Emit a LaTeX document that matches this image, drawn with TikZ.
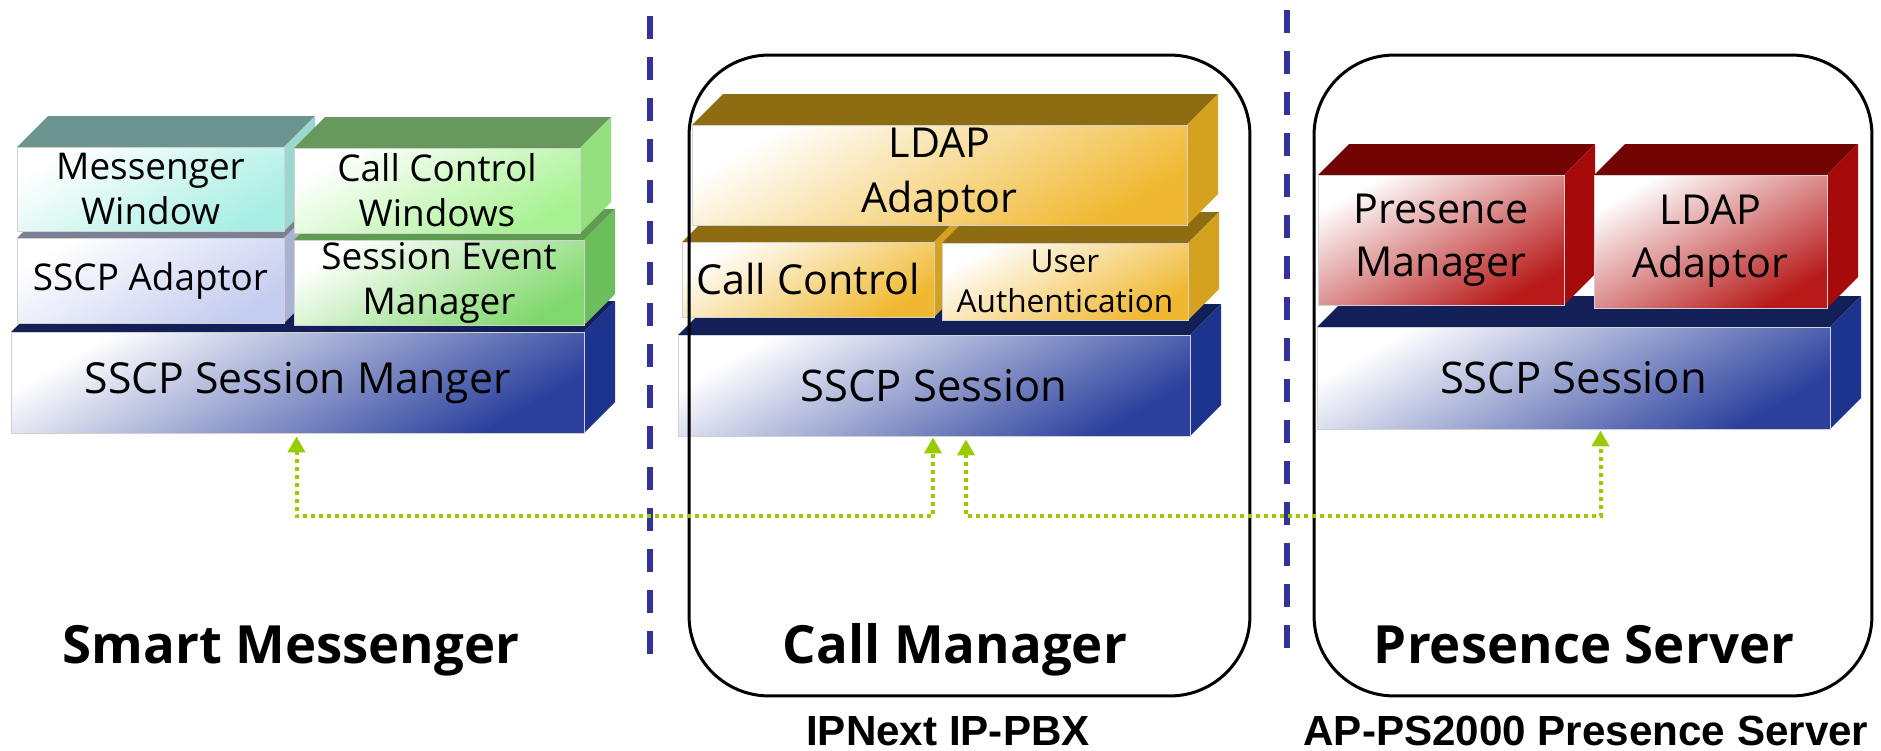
\documentclass[tikz,border=0pt]{standalone}
\usepackage{fontspec}
\setmainfont{Open Sans}
\newfontfamily\arialfont{Liberation Sans}
\usetikzlibrary{arrows.meta}
\definecolor{mwF}{HTML}{A8EEE4}\definecolor{mwT}{HTML}{6B948F}\definecolor{mwS}{HTML}{9BD8D0}
\definecolor{cwF}{HTML}{A6F290}\definecolor{cwT}{HTML}{66995B}\definecolor{cwS}{HTML}{94E07E}
\definecolor{adF}{HTML}{C4CCF0}\definecolor{adT}{HTML}{7B8095}\definecolor{adS}{HTML}{AAB2D2}
\definecolor{seF}{HTML}{80D86C}\definecolor{seT}{HTML}{5E9C52}\definecolor{seS}{HTML}{6CBF5C}
\definecolor{blF}{HTML}{2B409D}\definecolor{blT}{HTML}{132058}\definecolor{blS}{HTML}{1C348E}
\definecolor{orF}{HTML}{F0B830}\definecolor{orT}{HTML}{8E6C12}\definecolor{orS}{HTML}{D4A21E}
\definecolor{rdF}{HTML}{B81A1A}\definecolor{rdT}{HTML}{720404}\definecolor{rdS}{HTML}{A60A0A}
\definecolor{linkgreen}{HTML}{99CC00}
\definecolor{sepblue}{HTML}{35339A}
\newcommand{\slab}[8]{%
  \fill[#6T] (#2,#3) -- (#2+31,#3-31) -- (#4+31,#3-31) -- (#4,#3) -- cycle;
  \fill[#6S] (#4,#3) -- (#4+31,#3-31) -- (#4+31,#5-31) -- (#4,#5) -- cycle;
  \node[face=#6F, minimum width={(#4-#2)*0.02cm}, minimum height={(#5-#3)*0.02cm}, font=#7] (#1) at ({(#2+#4)/2},{(#3+#5)/2}) {#8};
}
\tikzset{
  face/.style={top color=white, bottom color=#1, shading angle=30, draw=black!18, line width=0.5pt, inner sep=0pt, align=center, text=black},
  panel/.style={draw=black, line width=0.06cm, rounded corners=1.6cm, inner sep=0pt},
  sepline/.style={draw=sepblue, line width=0.12cm, dash pattern=on 0.46cm off 0.36cm},
  link/.style={draw=linkgreen, line width=0.08cm, dash pattern=on 0.08cm off 0.08cm,
    {Triangle[width=0.34cm,length=0.32cm]}-{Triangle[width=0.34cm,length=0.32cm]},
    shorten <=0.06cm, shorten >=0.02cm},
  title/.style={font=\bfseries\fontsize{30}{36}\selectfont, anchor=base, inner sep=0pt},
  sub/.style={font=\arialfont\bfseries\fontsize{24}{28}\selectfont, anchor=base, inner sep=0pt}
}
\begin{document}
\begin{tikzpicture}[x=0.02cm, y=-0.02cm]
\useasboundingbox (0,0) rectangle (1881,751);
% Smart Messenger stack
\slab{smssc}{11}{332}{584}{433}{bl}{\fontsize{24.3}{29}\selectfont}{SSCP Session Manger}
\slab{smad}{17}{238}{284}{323}{ad}{\fontsize{21}{25.5}\selectfont}{SSCP Adaptor}
\slab{smsem}{294}{240}{584}{325}{se}{\fontsize{21}{25.5}\selectfont}{Session Event\\Manager}
\slab{smmw}{17}{147}{284}{231}{mw}{\fontsize{21}{25.5}\selectfont}{Messenger\\Window}
\slab{smccw}{294}{148}{580}{233}{cw}{\fontsize{21}{25.5}\selectfont}{Call Control\\Windows}
% Call Manager stack
\slab{cmssc}{678}{335}{1190}{436}{bl}{\fontsize{24.8}{30}\selectfont}{SSCP Session}
\slab{cmcc}{682}{242}{934}{317}{or}{\fontsize{23.5}{28}\selectfont}{Call Control}
\slab{cmua}{942}{243}{1188}{320}{or}{\fontsize{18}{22.5}\selectfont}{User\\Authentication}
\slab{cmldap}{692}{125}{1187}{225}{or}{\fontsize{23.5}{31}\selectfont}{LDAP\\Adaptor}
% Presence Server stack
\slab{psssc}{1317}{327}{1830}{429}{bl}{\fontsize{24.8}{30}\selectfont}{SSCP Session}
\slab{pspm}{1318}{175}{1564}{305}{rd}{\fontsize{23.5}{30}\selectfont}{Presence\\Manager}
\slab{psldap}{1594}{175}{1827}{308}{rd}{\fontsize{23.5}{30}\selectfont}{LDAP\\Adaptor}
% panels
\node[panel, minimum width=11.22cm, minimum height=12.82cm] (cmpanel) at (969.5,375.5) {};
\node[panel, minimum width=11.16cm, minimum height=12.82cm] (pspanel) at (1593,375.5) {};
% separators
\coordinate (s1a) at (650,16); \coordinate (s1b) at (650,667);
\coordinate (s2a) at (1287,10); \coordinate (s2b) at (1287,657);
\draw[sepline] (s1a) -- (s1b);
\draw[sepline] (s2a) -- (s2b);
% connectors
\draw[link] ([xshift=-0.02cm]smssc.south) -- ++(0,83) -| ([xshift=-0.02cm]cmssc.south);
\draw[link] ([xshift=0.64cm]cmssc.south) -- ++(0,80) -| ([xshift=0.54cm]psssc.south);
% titles
\node[title] (tsm) at (291,663) {Smart Messenger};
\node[title] (tcm) at (955,663) {Call Manager};
\node[title] (tps) at (1584,663) {Presence Server};
\node[sub] (lcm) at (948,745) {IPNext IP-PBX};
\node[sub] (lps) at (1586,745) {AP-PS2000 Presence Server};
\end{tikzpicture}
\end{document}
